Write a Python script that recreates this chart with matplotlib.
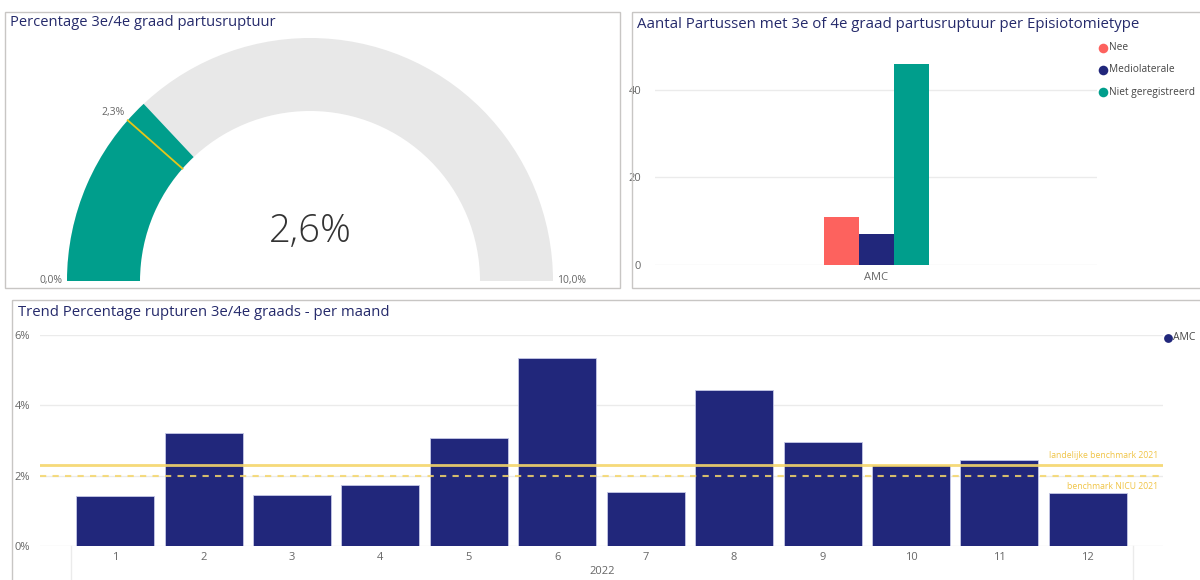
import matplotlib.pyplot as plt
from matplotlib.patches import Wedge, Rectangle
import numpy as np

# gauge data
gauge_value = 2.6
gauge_target = 2.3
gauge_min = 0.0
gauge_max = 10.0

# episiotomie per type
hospital = ['AMC']
epi_types = ['Nee', 'Mediolaterale', 'Niet geregistreerd']
epi_counts = [11, 7, 46]

# trend per maand
months = ['1', '2', '3', '4', '5', '6', '7', '8', '9', '10', '11', '12']
year_label = '2022'
pct_rupturen = [1.42, 3.2, 1.45, 1.73, 3.06, 5.36, 1.53, 4.45, 2.95, 2.3, 2.44, 1.5]
bench_names = ['landelijke benchmark 2021', 'benchmark NICU 2021']
bench_values = [2.3, 2.0]

plt.rcParams['font.family'] = ['Open Sans', 'DejaVu Sans']

W, H = 1200, 580
NAVY = '#21277b'
TEAL = '#009e8c'
RED = '#fd625e'
TITLE = '#252a6b'
GREY_TXT = '#666666'
GRID = '#ebebeb'
YEL = '#f5d66a'
YEL_TXT = '#f0c445'

fig = plt.figure(figsize=(12, 5.8), dpi=100)


def px_axes(l, t, r, b, **kw):
    return fig.add_axes([l / W, 1 - b / H, (r - l) / W, (b - t) / H], **kw)


def fmt(v):
    return f'{v:.1f}%'.replace('.', ',')


# ---------- gauge ----------
ga = px_axes(5, 12, 620, 288)
ga.set_xlim(5, 620)
ga.set_ylim(288, 12)
ga.set_aspect('equal')
ga.axis('off')
cx, cy, r_out, width = 310, 281, 243, 73
# y-axis inverted -> angles 180..360 form the upper half
ga.add_patch(Wedge((cx, cy), r_out, 180, 360, width=width, color='#e8e8e8', lw=0))
frac = (gauge_value - gauge_min) / (gauge_max - gauge_min)
ga.add_patch(Wedge((cx, cy), r_out, 180, 180 + frac * 180, width=width, color=TEAL, lw=0))
tf = (gauge_target - gauge_min) / (gauge_max - gauge_min)
ang = np.pi - tf * np.pi
ga.plot([cx + (r_out - width) * np.cos(ang), cx + r_out * np.cos(ang)],
        [cy - (r_out - width) * np.sin(ang), cy - r_out * np.sin(ang)],
        color='#e6c619', lw=1.3)
ga.text(cx + (r_out + 4) * np.cos(ang), cy - (r_out + 4) * np.sin(ang), fmt(gauge_target),
        ha='right', va='bottom', fontsize=7.5, color=GREY_TXT)
ga.text(cx - r_out - 4, cy, fmt(gauge_min), ha='right', va='center', fontsize=7.5, color=GREY_TXT)
ga.text(cx + r_out + 4, cy, fmt(gauge_max), ha='left', va='center', fontsize=7.5, color=GREY_TXT)
ga.text(cx, 232, fmt(gauge_value), ha='center', va='center', fontsize=27.5,
        color='#333333', fontweight='light')

# ---------- bar chart per episiotomietype ----------
ba = px_axes(655, 46, 1097, 265)
ba.set_ylim(0, 50)
ba.set_xlim(-0.5, 0.5)
bw = 35 / 442
colors = [RED, NAVY, TEAL]
for i, (name, val) in enumerate(zip(epi_types, epi_counts)):
    ba.bar(0 + (i - 1) * bw, val, width=bw, color=colors[i], zorder=3, label=name)
ba.set_yticks([0, 20, 40])
ba.set_xticks([0])
ba.set_xticklabels(hospital)
ba.grid(axis='y', color=GRID, lw=1, zorder=0)
for s in ba.spines.values():
    s.set_visible(False)
ba.tick_params(length=0, labelsize=8, labelcolor=GREY_TXT)
ba.tick_params(axis='y', pad=10)
ba.tick_params(axis='x', pad=5)

# ---------- trend ----------
ta = px_axes(40, 335, 1163, 546)
x = np.arange(1, len(months) + 1)
ta.bar(x, pct_rupturen, width=78 / 88.4, color=NAVY, edgecolor='#c5c8e6', lw=0.6, zorder=3)
ta.set_xlim(0.15, 12.85)
ta.set_ylim(0, 6)
ta.set_yticks([0, 2, 4, 6])
ta.set_yticklabels(['0%', '2%', '4%', '6%'])
ta.set_xticks(x)
ta.set_xticklabels(months)
ta.grid(axis='y', color=GRID, lw=1, zorder=0)
for s in ta.spines.values():
    s.set_visible(False)
ta.tick_params(length=0, labelsize=8, labelcolor=GREY_TXT)
ta.tick_params(axis='y', pad=7)
ta.tick_params(axis='x', pad=4)
ta.axhline(bench_values[0], color=YEL, lw=2, alpha=0.9, zorder=4)
ta.axhline(bench_values[1], color=YEL, lw=1.5, ls=(0, (3, 3)), alpha=0.85, zorder=4)
ta.text(12.8, bench_values[0] + 0.15, bench_names[0], ha='right', va='bottom',
        fontsize=6.2, color=YEL_TXT, zorder=5)
ta.text(12.8, bench_values[1] - 0.17, bench_names[1], ha='right', va='top',
        fontsize=6.2, color=YEL_TXT, zorder=5)

# ---------- overlay: borders, titles, legends ----------
ov = fig.add_axes([0, 0, 1, 1], zorder=10)
ov.set_xlim(0, W)
ov.set_ylim(H, 0)
ov.axis('off')
ov.patch.set_alpha(0)
border = '#c8c6c4'
ov.add_patch(Rectangle((5, 12), 615, 276, fill=False, ec=border, lw=1))
ov.add_patch(Rectangle((632, 12), 580, 276, fill=False, ec=border, lw=1))
ov.add_patch(Rectangle((12, 300), 1200, 300, fill=False, ec=border, lw=1))
ov.plot([71, 71], [546, 580], color=GRID, lw=1)
ov.plot([1133, 1133], [546, 580], color=GRID, lw=1)
ov.text(602, 571, year_label, ha='center', va='center', fontsize=8, color=GREY_TXT)

ov.text(10, 22, 'Percentage 3e/4e graad partusruptuur', ha='left', va='center',
        fontsize=10.6, color=TITLE)
ov.text(637, 24, 'Aantal Partussen met 3e of 4e graad partusruptuur per Episiotomietype',
        ha='left', va='center', fontsize=10.8, color=TITLE)
ov.text(18, 313, 'Trend Percentage rupturen 3e/4e graads - per maand', ha='left',
        va='center', fontsize=10.7, color=TITLE)

for i, (name, c) in enumerate(zip(epi_types, colors)):
    yy = 48 + i * 22
    ov.scatter([1103], [yy], s=48, color=c, lw=0)
    ov.text(1109, yy, name, ha='left', va='center', fontsize=7.3, color='#444444')

ov.scatter([1168], [338], s=40, color=NAVY, lw=0)
ov.text(1173, 338, hospital[0], ha='left', va='center', fontsize=7.5, color='#444444')

fig.savefig('out.png', dpi=100)
